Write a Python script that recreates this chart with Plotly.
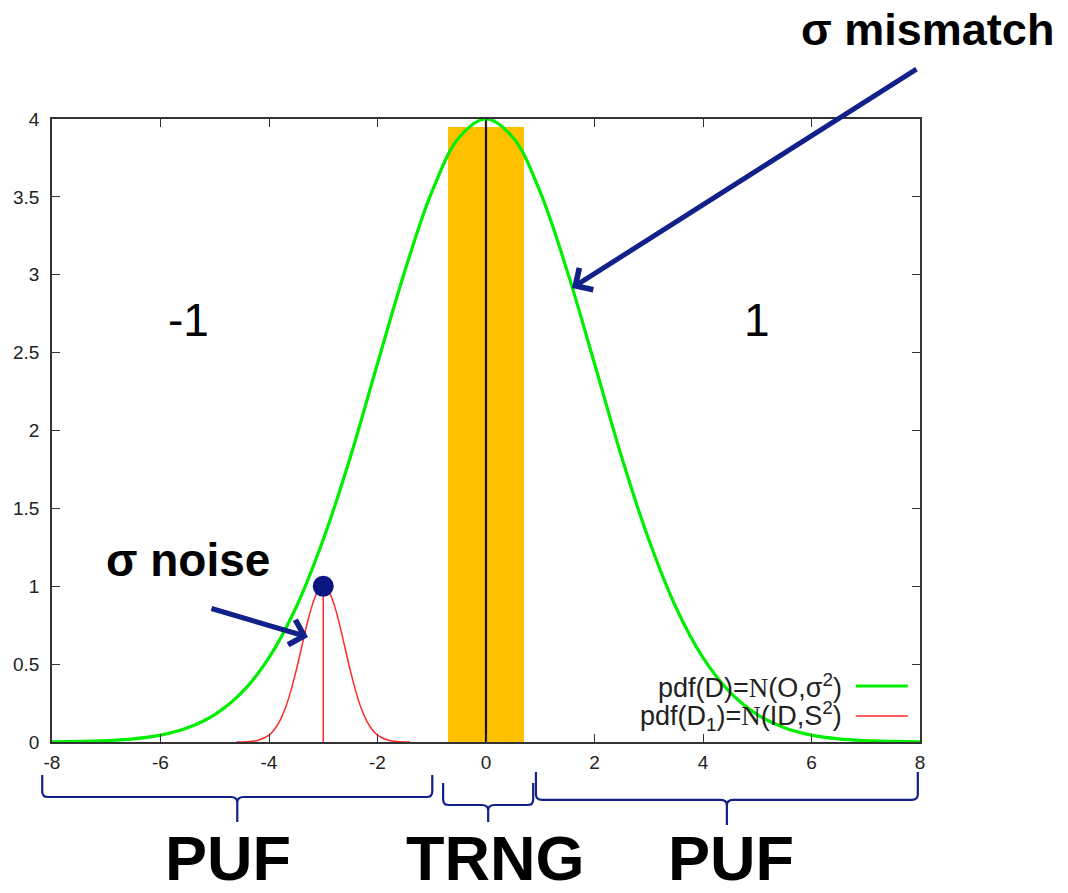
import plotly.graph_objects as go

# ---- data ----
green_x = [-8, -7.5, -7, -6.5, -6, -5.5, -5, -4.5, -4, -3.5, -3, -2.5, -2, -1.5, -1, -0.5,
           0, 0.5, 1, 1.5, 2, 2.5, 3, 3.5, 4, 4.5, 5, 5.5, 6, 6.5, 7, 7.5, 8]
green_y = [0.001, 0.004, 0.009, 0.020, 0.044, 0.091, 0.176, 0.318, 0.541, 0.865, 1.30, 1.83,
           2.43, 3.02, 3.53, 3.88, 4.00, 3.88, 3.53, 3.02, 2.43, 1.83, 1.30, 0.865, 0.541,
           0.318, 0.176, 0.091, 0.044, 0.020, 0.009, 0.004, 0.001]

red_x = [-4.6, -4.4, -4.2, -4.0, -3.9, -3.8, -3.7, -3.6, -3.5, -3.4, -3.3, -3.2, -3.1,
         -3.0, -2.9, -2.8, -2.7, -2.6, -2.5, -2.4, -2.3, -2.2, -2.1, -2.0, -1.8, -1.6, -1.4]
red_y = [0.000, 0.002, 0.011, 0.044, 0.080, 0.135, 0.216, 0.325, 0.458, 0.607, 0.755,
         0.882, 0.969, 1.000, 0.969, 0.882, 0.755, 0.607, 0.458, 0.325, 0.216, 0.135, 0.080,
         0.044, 0.011, 0.002, 0.000]

noise_x = [-3]          # red vertical line / dot position
noise_peak = [1.0]
mean_x = [0]            # black vertical line
mean_peak = [4.0]
trng_center = [0]
trng_height = [3.95]
trng_width = 1.4

x_ticks = [-8, -6, -4, -2, 0, 2, 4, 6, 8]
y_ticks = [0, 0.5, 1, 1.5, 2, 2.5, 3, 3.5, 4]

legend_labels = ["pdf(D)=<span style='font-family:Liberation Serif'>N</span>(O,σ<sup>2</sup>)",
                 "pdf(D<sub>1</sub>)=<span style='font-family:Liberation Serif'>N</span>(ID,S<sup>2</sup>)"]
region_labels = ["PUF", "TRNG", "PUF"]
region_spans = [(-8.18, -0.99), (-0.79, 0.87), (0.92, 7.96)]

GREEN = "#00ee00"
RED = "#ff2a2a"
ORANGE = "#ffc000"
NAVY = "#12208a"
FONT = "Liberation Sans, Arial, sans-serif"

fig = go.Figure()

fig.add_trace(go.Bar(x=trng_center, y=trng_height, width=trng_width, base=0,
                     marker=dict(color=ORANGE, line=dict(width=0)), showlegend=False))
fig.add_trace(go.Scatter(x=mean_x * 2, y=[0, mean_peak[0]], mode="lines",
                         line=dict(color="#111111", width=2.2), showlegend=False))
fig.add_trace(go.Scatter(x=red_x, y=red_y, mode="lines", line=dict(color=RED, width=1.5, shape="spline"),
                         showlegend=False))
fig.add_trace(go.Scatter(x=noise_x * 2, y=[0, noise_peak[0]], mode="lines",
                         line=dict(color=RED, width=1.5), showlegend=False))
fig.add_trace(go.Scatter(x=green_x, y=green_y, mode="lines",
                         line=dict(color=GREEN, width=3.2, shape="spline"), showlegend=False))
fig.add_trace(go.Scatter(x=noise_x, y=noise_peak, mode="markers",
                         marker=dict(color="#0a1580", size=21), showlegend=False, cliponaxis=False))

axis_common = dict(showgrid=False, zeroline=False, showline=True, linecolor="#333333", linewidth=1.5,
                   mirror="allticks", ticks="inside", ticklen=8, tickwidth=1, tickcolor="#333333",
                   tickfont=dict(family=FONT, size=19, color="#222222"))
fig.update_xaxes(range=[-8, 8], tickvals=x_ticks, ticktext=[str(v) for v in x_ticks],
                 ticklabelstandoff=2, automargin=False, **axis_common)
fig.update_yaxes(range=[0, 4], tickvals=y_ticks, ticktext=[f"{v:g}" for v in y_ticks],
                 ticklabelstandoff=7, automargin=False, **axis_common)

annotations = []
shapes = []

# legend (text right, sample line on the right)
leg_y = [0.0899, 0.0417]
leg_colors = [GREEN, RED]
leg_widths = [3.2, 1.5]
for lab, yy, col, w in zip(legend_labels, leg_y, leg_colors, leg_widths):
    annotations.append(dict(x=0.912, y=yy, xref="paper", yref="paper", text=lab, showarrow=False,
                            xanchor="right", yanchor="middle",
                            font=dict(family=FONT, size=27, color="#222222")))
    shapes.append(dict(type="line", xref="paper", yref="paper", x0=0.926, x1=0.986, y0=yy, y1=yy,
                       line=dict(color=col, width=w)))

# region braces under the axis
brace_levels = [(-0.053, -0.0883, -0.1284), (-0.0658, -0.1011, -0.1284), (-0.048, -0.093, -0.1332)]
rx, ry = 0.007, 0.009
for (a, b), (ytop, yh, ytip) in zip(region_spans, brace_levels):
    xl, xr = (a + 8) / 16, (b + 8) / 16
    xc = (xl + xr) / 2
    path = (f"M{xl},{ytop} L{xl},{yh+ry} Q{xl},{yh} {xl+rx},{yh} L{xc-rx},{yh} "
            f"Q{xc},{yh} {xc},{yh-ry} L{xc},{ytip} M{xc},{yh-ry} Q{xc},{yh} {xc+rx},{yh} "
            f"L{xr-rx},{yh} Q{xr},{yh} {xr},{yh+ry} L{xr},{ytop}")
    shapes.append(dict(type="path", xref="paper", yref="paper", path=path,
                       line=dict(color=NAVY, width=2.2)))

for lab, x in zip(region_labels, [-4.756, 0.166, 4.516]):
    annotations.append(dict(x=x, y=-0.186, xref="x", yref="paper", text=f"<b>{lab}</b>",
                            showarrow=False, xanchor="center", yanchor="middle",
                            font=dict(family=FONT, size=63, color="black")))

annotations += [
    dict(x=1.0092, y=1.1429, xref="paper", yref="paper", text="<b>σ mismatch</b>", showarrow=False,
         xanchor="center", yanchor="middle", font=dict(family=FONT, size=45, color="black")),
    dict(x=-5.493, y=1.169, xref="x", yref="y", text="<b>σ noise</b>", showarrow=False,
         xanchor="center", yanchor="middle", font=dict(family=FONT, size=46, color="black")),
    dict(x=-5.493, y=2.709, xref="x", yref="y", text="-1", showarrow=False,
         xanchor="center", yanchor="middle", font=dict(family=FONT, size=46, color="black")),
    dict(x=4.995, y=2.709, xref="x", yref="y", text="1", showarrow=False,
         xanchor="center", yanchor="middle", font=dict(family=FONT, size=46, color="black")),
    dict(x=1.585, y=2.915, ax=7.963, ay=4.327, xref="x", yref="y", axref="x", ayref="y",
         text="", showarrow=True, arrowhead=4, arrowsize=1.0, arrowwidth=5, arrowcolor=NAVY),
    dict(x=-3.281, y=0.674, ax=-5.088, ay=0.860, xref="x", yref="y", axref="x", ayref="y",
         text="", showarrow=True, arrowhead=4, arrowsize=1.0, arrowwidth=5, arrowcolor=NAVY),
]

fig.update_layout(width=1068, height=893, margin=dict(l=44, r=156, t=111, b=159, autoexpand=False),
                  plot_bgcolor="white", paper_bgcolor="white", showlegend=False,
                  annotations=annotations, shapes=shapes, bargap=0)

fig.write_html("out.html")
